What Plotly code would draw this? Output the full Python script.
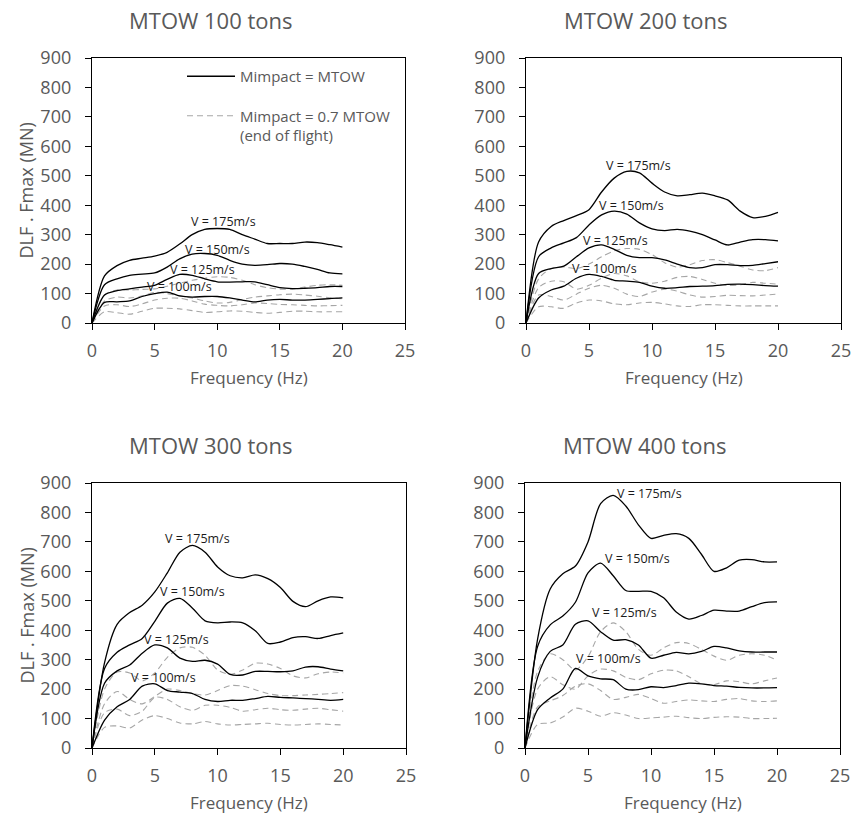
import plotly.graph_objects as go

W, H = 852, 818
freq = list(range(21))
x_ticks = [0, 5, 10, 15, 20, 25]
y_ticks = [0, 100, 200, 300, 400, 500, 600, 700, 800, 900]
speed_labels = ["V = 175m/s", "V = 150m/s", "V = 125m/s", "V = 100m/s"]
panel_titles = ["MTOW 100 tons", "MTOW 200 tons", "MTOW 300 tons", "MTOW 400 tons"]
legend_full = "Mimpact = MTOW"
legend_end = "Mimpact = 0.7 MTOW<br>(end of flight)"

# ---- MTOW 100 tons: Mimpact = MTOW (solid)
m100_v175 = [0, 160, 195, 213, 220, 227, 240, 268, 300, 318, 321, 318, 300, 285, 270, 270, 270, 275, 273, 266, 258]
m100_v150 = [0, 130, 150, 162, 166, 170, 190, 218, 234, 236, 230, 213, 200, 196, 198, 202, 200, 192, 182, 170, 167]
m100_v125 = [0, 95, 110, 116, 122, 128, 148, 165, 162, 150, 140, 139, 140, 140, 130, 120, 117, 118, 120, 124, 124]
m100_v100 = [0, 70, 72, 75, 90, 100, 105, 92, 88, 90, 90, 85, 78, 72, 78, 80, 78, 78, 80, 83, 85]
# ---- MTOW 100 tons: Mimpact = 0.7 MTOW (dashed)
e100_v175 = [0, 95, 112, 112, 114, 116, 125, 135, 145, 152, 157, 155, 145, 130, 120, 115, 115, 122, 128, 130, 128]
e100_v150 = [0, 75, 88, 85, 92, 104, 100, 92, 85, 75, 68, 70, 80, 88, 92, 96, 98, 95, 91, 86, 82]
e100_v125 = [0, 58, 62, 56, 65, 78, 84, 84, 75, 64, 60, 58, 62, 68, 66, 63, 62, 60, 58, 59, 60]
e100_v100 = [0, 38, 35, 30, 40, 50, 50, 48, 42, 36, 38, 41, 40, 36, 33, 36, 40, 40, 38, 38, 38]

# ---- MTOW 200 tons
m200_v175 = [0, 275, 328, 348, 365, 385, 445, 492, 515, 510, 475, 445, 432, 436, 441, 432, 418, 380, 358, 362, 376]
m200_v150 = [0, 225, 255, 272, 290, 333, 367, 380, 370, 340, 320, 314, 318, 312, 300, 282, 265, 275, 283, 283, 279]
m200_v125 = [0, 168, 185, 193, 225, 255, 265, 250, 230, 222, 222, 214, 200, 188, 188, 198, 198, 195, 196, 202, 208]
m200_v100 = [0, 85, 112, 125, 152, 165, 158, 145, 142, 138, 125, 118, 120, 124, 125, 127, 131, 132, 130, 127, 125]
e200_v175 = [0, 150, 185, 190, 185, 200, 225, 245, 253, 250, 232, 205, 190, 198, 212, 215, 205, 193, 180, 178, 188]
e200_v150 = [0, 120, 142, 140, 115, 128, 152, 168, 160, 140, 135, 142, 155, 158, 148, 135, 128, 130, 138, 135, 132]
e200_v125 = [0, 95, 90, 78, 98, 118, 128, 118, 98, 90, 105, 115, 108, 95, 88, 90, 94, 93, 92, 95, 98]
e200_v100 = [0, 55, 55, 50, 68, 78, 75, 65, 62, 68, 70, 65, 58, 56, 62, 62, 60, 58, 58, 58, 58]

# ---- MTOW 300 tons
m300_v175 = [0, 290, 420, 460, 485, 530, 595, 665, 688, 665, 615, 585, 578, 588, 575, 545, 498, 480, 500, 513, 510]
m300_v150 = [0, 270, 325, 350, 372, 430, 492, 508, 475, 432, 425, 428, 425, 398, 355, 360, 375, 378, 372, 382, 391]
m300_v125 = [0, 220, 262, 282, 322, 350, 340, 305, 294, 298, 285, 250, 248, 260, 260, 259, 262, 275, 276, 268, 262]
m300_v100 = [0, 95, 140, 165, 210, 218, 195, 190, 185, 165, 158, 162, 162, 168, 175, 172, 170, 168, 165, 162, 165]
e300_v175 = [0, 200, 258, 255, 228, 255, 308, 340, 342, 315, 265, 250, 265, 288, 285, 270, 245, 238, 252, 258, 255]
e300_v150 = [0, 150, 192, 165, 150, 175, 200, 195, 185, 180, 195, 212, 210, 198, 185, 178, 178, 180, 182, 185, 188]
e300_v125 = [0, 120, 132, 110, 125, 172, 165, 140, 128, 145, 145, 138, 125, 130, 135, 130, 128, 132, 135, 130, 125]
e300_v100 = [0, 70, 75, 68, 95, 110, 100, 85, 82, 90, 82, 78, 80, 82, 84, 80, 78, 80, 82, 80, 78]

# ---- MTOW 400 tons
m400_v175 = [0, 370, 540, 592, 618, 700, 830, 858, 822, 758, 712, 722, 728, 712, 658, 600, 612, 638, 640, 632, 632]
m400_v150 = [0, 345, 418, 448, 495, 595, 628, 585, 535, 532, 532, 510, 462, 438, 450, 468, 465, 465, 480, 494, 496]
m400_v125 = [0, 240, 328, 350, 420, 432, 395, 366, 368, 350, 305, 315, 325, 320, 328, 345, 340, 330, 326, 326, 326]
m400_v100 = [0, 130, 170, 200, 270, 245, 235, 232, 200, 198, 208, 205, 212, 220, 218, 212, 210, 206, 204, 204, 205]
e400_v175 = [0, 260, 320, 300, 265, 310, 395, 425, 395, 335, 315, 340, 358, 355, 335, 312, 298, 315, 320, 315, 298]
e400_v150 = [0, 200, 242, 215, 200, 245, 268, 262, 240, 232, 252, 264, 262, 242, 218, 215, 228, 225, 218, 228, 238]
e400_v125 = [0, 140, 160, 178, 210, 218, 195, 165, 172, 182, 168, 152, 158, 163, 160, 158, 165, 168, 160, 158, 160]
e400_v100 = [0, 80, 85, 105, 135, 125, 108, 120, 112, 100, 102, 105, 108, 103, 100, 104, 106, 105, 100, 100, 101]

solid_sets = [
    [m100_v175, m100_v150, m100_v125, m100_v100],
    [m200_v175, m200_v150, m200_v125, m200_v100],
    [m300_v175, m300_v150, m300_v125, m300_v100],
    [m400_v175, m400_v150, m400_v125, m400_v100],
]
dashed_sets = [
    [e100_v175, e100_v150, e100_v125, e100_v100],
    [e200_v175, e200_v150, e200_v125, e200_v100],
    [e300_v175, e300_v150, e300_v125, e300_v100],
    [e400_v175, e400_v150, e400_v125, e400_v100],
]
# label anchor positions (Hz, MN) for the speed labels in each panel
label_pos = [
    [(10.5, 344), (10.0, 250), (8.8, 182), (7.0, 123)],
    [(8.9, 535), (8.4, 399), (7.1, 281), (6.2, 186)],
    [(8.4, 711), (8.0, 530), (6.7, 369), (5.7, 239)],
    [(9.9, 864), (8.9, 645), (7.9, 459), (6.6, 304)],
]

# plot areas in pixels (left, right, top, bottom)
boxes = [(92, 405, 58, 323), (526, 841, 58, 323), (92, 406, 483, 748), (525, 840, 483, 748)]

FONT = "Open Sans, Arial, sans-serif"
GRAY = "#595959"

fig = go.Figure()
layout = dict(
    width=W, height=H, margin=dict(l=0, r=0, t=0, b=0, autoexpand=False),
    paper_bgcolor="white", plot_bgcolor="white",
    font=dict(family=FONT, color=GRAY),
    showlegend=True,
    legend=dict(x=182 / W, y=1 - 60 / H, xanchor="left", yanchor="top",
                bgcolor="rgba(0,0,0,0)", font=dict(size=15, color=GRAY, family=FONT),
                tracegroupgap=17, valign="top", traceorder="grouped", itemwidth=48),
)
annotations = []

for i in range(4):
    ax = "" if i == 0 else str(i + 1)
    xa, ya = "x" + ax, "y" + ax
    l, r, t, b = boxes[i]
    layout["xaxis" + ax] = dict(
        domain=[l / W, r / W], anchor=ya, range=[0, 25], tickvals=x_ticks,
        showline=True, linecolor="black", linewidth=1.3, mirror=True,
        ticks="outside", ticklen=6, tickwidth=1.3, tickcolor="black",
        showgrid=False, zeroline=False, tickfont=dict(size=18, color=GRAY),
        ticklabelstandoff=5, automargin=False,
    )
    layout["yaxis" + ax] = dict(
        domain=[1 - b / H, 1 - t / H], anchor=xa, range=[0, 900], tickvals=y_ticks,
        showline=True, linecolor="black", linewidth=1.3, mirror=True,
        ticks="outside", ticklen=6, tickwidth=1.3, tickcolor="black",
        showgrid=False, zeroline=False, tickfont=dict(size=18, color=GRAY),
        ticklabelstandoff=10, automargin=False,
    )
    for k, ys in enumerate(dashed_sets[i]):
        fig.add_trace(go.Scatter(
            x=freq, y=ys, mode="lines", xaxis=xa, yaxis=ya,
            line=dict(color="#a6a6a6", width=1.1, dash="6px,4px", shape="spline", smoothing=0.8),
            name=legend_end, legendgroup="b", showlegend=(i == 0 and k == 0)))
    for k, ys in enumerate(solid_sets[i]):
        fig.add_trace(go.Scatter(
            x=freq, y=ys, mode="lines", xaxis=xa, yaxis=ya,
            line=dict(color="black", width=1.3, shape="spline", smoothing=0.8),
            name=legend_full, legendgroup="a", legendrank=1, showlegend=(i == 0 and k == 0)))
    for k, (lx, ly) in enumerate(label_pos[i]):
        annotations.append(dict(x=lx, y=ly, xref=xa, yref=ya, text=speed_labels[k],
                                showarrow=False, xanchor="center", yanchor="middle",
                                font=dict(size=12.5, color="#1a1a1a", family=FONT)))
    # panel title
    cx = (l + r) / 2
    annotations.append(dict(x=(cx - 38) / W, y=1 - (t - 38) / H, xref="paper", yref="paper",
                            text=panel_titles[i], showarrow=False, xanchor="center", yanchor="middle",
                            font=dict(size=22, color=GRAY, family=FONT)))
    # x-axis title
    annotations.append(dict(x=cx / W, y=1 - (b + 54) / H, xref="paper", yref="paper",
                            text="Frequency (Hz)", showarrow=False, xanchor="center", yanchor="middle",
                            font=dict(size=17, color=GRAY, family=FONT)))
    if i in (0, 2):
        annotations.append(dict(x=26 / W, y=1 - ((t + b) / 2) / H, xref="paper", yref="paper",
                                text="DLF . Fmax (MN)", textangle=-90, showarrow=False,
                                xanchor="center", yanchor="middle",
                                font=dict(size=18, color=GRAY, family=FONT)))

layout["annotations"] = annotations
fig.update_layout(**layout)
fig.write_html("out.html")
